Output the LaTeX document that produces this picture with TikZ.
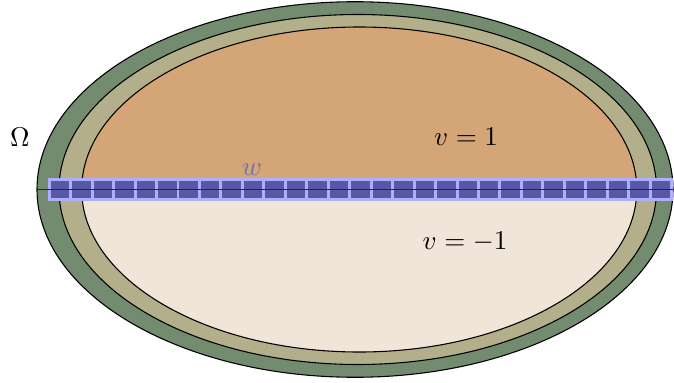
\documentclass[tikz,border=0pt]{standalone}
\usetikzlibrary{positioning}
\definecolor{ringouter}{HTML}{738C70}
\definecolor{ringinner}{HTML}{B3AF8A}
\definecolor{upperfill}{HTML}{D4A577}
\definecolor{lowerfill}{HTML}{F1E5D9}
\definecolor{cellfill}{HTML}{5757A6}
\definecolor{celledge}{HTML}{AEAEFF}
\definecolor{axisline}{HTML}{3C2222}

\begin{document}
\begin{tikzpicture}[
  region/.style={draw=black, line width=0.4pt},
  cell/.style={fill=cellfill, draw=celledge, line width=1.1pt},
  axis/.style={draw=axisline, line width=0.6pt},
  wlbl/.style={text=cellfill!85!white}
]
\useasboundingbox (-4.615,-2.5025) rectangle (4.147,2.4635);

% domain Omega and its two collars
\draw[region, fill=ringouter] (0,0) ellipse [x radius=4.134, y radius=2.441];
\draw[region, fill=ringinner] (0.036,0) ellipse [x radius=3.884, y radius=2.275];

% inner region, upper half v=1, lower half v=-1
\fill[lowerfill] (0.055,0) ellipse [x radius=3.608, y radius=2.1125];
\fill[upperfill] (3.663,0) arc [start angle=0, end angle=180, x radius=3.608, y radius=2.1125] -- cycle;
\draw[region] (0.055,0) ellipse [x radius=3.608, y radius=2.1125];

% strip of cells along the interface
\foreach \i in {0,...,28}
  \draw[cell] (-3.975+0.279*\i,-0.13) rectangle ++(0.279,0.26);

% interface
\coordinate (axisW) at (-4.134,0);
\coordinate (axisE) at (4.134,0);
\draw[axis] (axisW) -- (axisE);

% labels
\node (omega)  at (-4.355,0.683) {$\Omega$};
\node (vplus)  at (1.443,0.683)  {$v=1$};
\node (vminus) at (1.43,-0.683)  {$v=-1$};
\node[wlbl] (wlabel) at (-1.339,0.2535) {$w$};

\end{tikzpicture}
\end{document}
